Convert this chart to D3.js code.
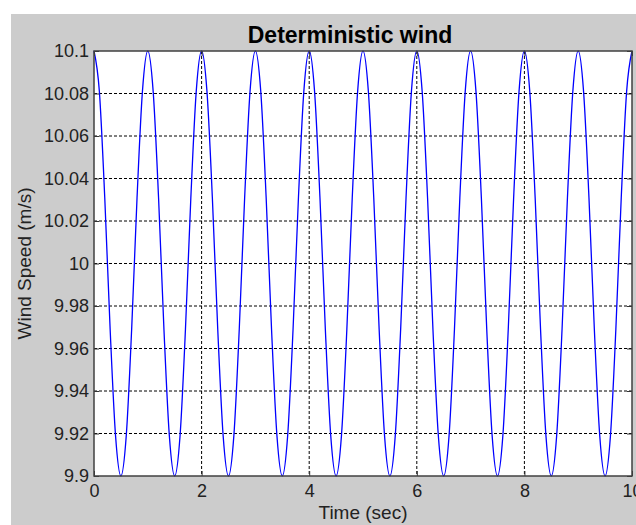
<!DOCTYPE html>
<html>
<head>
<meta charset="utf-8">
<script src="https://cdn.jsdelivr.net/npm/d3@7"></script>
<style>
  body { margin: 0; background: #ffffff; }
  svg { display: block; font-family: "Liberation Sans", Arial, sans-serif; }
</style>
</head>
<body>
<div id="plot"></div>
<script>
// Sample times (sec), read every 0.1 s
const times = [
    0.0, 0.1, 0.2, 0.3, 0.4, 0.5, 0.6, 0.7, 0.8, 0.9,
    1.0, 1.1, 1.2, 1.3, 1.4, 1.5, 1.6, 1.7, 1.8, 1.9,
    2.0, 2.1, 2.2, 2.3, 2.4, 2.5, 2.6, 2.7, 2.8, 2.9,
    3.0, 3.1, 3.2, 3.3, 3.4, 3.5, 3.6, 3.7, 3.8, 3.9,
    4.0, 4.1, 4.2, 4.3, 4.4, 4.5, 4.6, 4.7, 4.8, 4.9,
    5.0, 5.1, 5.2, 5.3, 5.4, 5.5, 5.6, 5.7, 5.8, 5.9,
    6.0, 6.1, 6.2, 6.3, 6.4, 6.5, 6.6, 6.7, 6.8, 6.9,
    7.0, 7.1, 7.2, 7.3, 7.4, 7.5, 7.6, 7.7, 7.8, 7.9,
    8.0, 8.1, 8.2, 8.3, 8.4, 8.5, 8.6, 8.7, 8.8, 8.9,
    9.0, 9.1, 9.2, 9.3, 9.4, 9.5, 9.6, 9.7, 9.8, 9.9,
    10.0
];

// Wind speed (m/s) at those times
const windSpeed = [
    10.1, 10.0809, 10.0309, 9.9691, 9.9191, 9.9, 9.9191, 9.9691, 10.0309, 10.0809,
    10.1, 10.0809, 10.0309, 9.9691, 9.9191, 9.9, 9.9191, 9.9691, 10.0309, 10.0809,
    10.1, 10.0809, 10.0309, 9.9691, 9.9191, 9.9, 9.9191, 9.9691, 10.0309, 10.0809,
    10.1, 10.0809, 10.0309, 9.9691, 9.9191, 9.9, 9.9191, 9.9691, 10.0309, 10.0809,
    10.1, 10.0809, 10.0309, 9.9691, 9.9191, 9.9, 9.9191, 9.9691, 10.0309, 10.0809,
    10.1, 10.0809, 10.0309, 9.9691, 9.9191, 9.9, 9.9191, 9.9691, 10.0309, 10.0809,
    10.1, 10.0809, 10.0309, 9.9691, 9.9191, 9.9, 9.9191, 9.9691, 10.0309, 10.0809,
    10.1, 10.0809, 10.0309, 9.9691, 9.9191, 9.9, 9.9191, 9.9691, 10.0309, 10.0809,
    10.1, 10.0809, 10.0309, 9.9691, 9.9191, 9.9, 9.9191, 9.9691, 10.0309, 10.0809,
    10.1, 10.0809, 10.0309, 9.9691, 9.9191, 9.9, 9.9191, 9.9691, 10.0309, 10.0809,
    10.1
];

const xTicks = [0, 2, 4, 6, 8, 10];
const yTicks = [9.9, 9.92, 9.94, 9.96, 9.98, 10, 10.02, 10.04, 10.06, 10.08, 10.1];

const width = 636;
const height = 525;
const marginLeft = 94;
const marginRight = 4;
const marginTop = 51;
const marginBottom = 49;

const svg = d3.select("#plot").append("svg")
    .attr("width", width)
    .attr("height", height);

// Figure background (gray, offset like the screenshot)
svg.append("rect")
    .attr("x", 11).attr("y", 14)
    .attr("width", width - 11).attr("height", height - 14)
    .attr("fill", "#cccccc");

const x = d3.scaleLinear().domain([0, 10]).range([marginLeft, width - marginRight]);
const y = d3.scaleLinear().domain([9.9, 10.1]).range([height - marginBottom, marginTop]);

// Plot area
svg.append("rect")
    .attr("x", marginLeft).attr("y", marginTop)
    .attr("width", x(10) - x(0)).attr("height", y(9.9) - y(10.1))
    .attr("fill", "#ffffff");

// Grid lines
svg.append("g")
    .selectAll("line")
    .data(xTicks.slice(1, -1))
    .enter().append("line")
    .attr("x1", d => x(d)).attr("x2", d => x(d))
    .attr("y1", y(10.1)).attr("y2", y(9.9))
    .attr("stroke", "#000").attr("stroke-dasharray", "3,2");

svg.append("g")
    .selectAll("line")
    .data(yTicks.slice(1, -1))
    .enter().append("line")
    .attr("x1", x(0)).attr("x2", x(10))
    .attr("y1", d => y(d)).attr("y2", d => y(d))
    .attr("stroke", "#000").attr("stroke-dasharray", "3,2");

// The wind signal
const line = d3.line()
    .curve(d3.curveMonotoneX)
    .x((d, i) => x(times[i]))
    .y(d => y(d));

svg.append("path")
    .attr("d", line(windSpeed))
    .attr("fill", "none")
    .attr("stroke", "#0000ff")
    .attr("stroke-width", 1.3);

// Axes with inward ticks, box on all sides
const fmt = d => String(+d.toFixed(2));

svg.append("g")
    .attr("transform", `translate(0,${y(9.9)})`)
    .call(d3.axisBottom(x).tickValues(xTicks).tickSize(-5).tickPadding(8).tickFormat(fmt))
    .call(g => g.select(".domain").remove());

svg.append("g")
    .attr("transform", `translate(${x(0)},0)`)
    .call(d3.axisLeft(y).tickValues(yTicks).tickSize(-5).tickPadding(5).tickFormat(fmt))
    .call(g => g.select(".domain").remove());

svg.append("g")
    .attr("transform", `translate(0,${y(10.1)})`)
    .call(d3.axisTop(x).tickValues(xTicks).tickSize(-5).tickFormat(""))
    .call(g => g.select(".domain").remove());

svg.append("g")
    .attr("transform", `translate(${x(10)},0)`)
    .call(d3.axisRight(y).tickValues(yTicks).tickSize(-5).tickFormat(""))
    .call(g => g.select(".domain").remove());

svg.selectAll(".tick line").attr("stroke", "#333");
svg.selectAll(".tick text")
    .attr("font-family", "'Liberation Sans', Arial, sans-serif")
    .attr("font-size", 18)
    .attr("fill", "#222");

svg.append("rect")
    .attr("x", x(0)).attr("y", y(10.1))
    .attr("width", x(10) - x(0)).attr("height", y(9.9) - y(10.1))
    .attr("fill", "none")
    .attr("stroke", "#404040")
    .attr("stroke-width", 1.5);

// Title and labels
svg.append("text")
    .attr("x", 350).attr("y", 43)
    .attr("text-anchor", "middle")
    .attr("font-size", 23).attr("font-weight", "bold")
    .text("Deterministic wind");

svg.append("text")
    .attr("x", (x(0) + x(10)) / 2).attr("y", 519)
    .attr("text-anchor", "middle")
    .attr("font-size", 19)
    .attr("fill", "#222")
    .text("Time (sec)");

svg.append("text")
    .attr("transform", `translate(31,${(y(9.9) + y(10.1)) / 2}) rotate(-90)`)
    .attr("text-anchor", "middle")
    .attr("font-size", 19)
    .attr("fill", "#222")
    .text("Wind Speed (m/s)");
</script>
</body>
</html>
